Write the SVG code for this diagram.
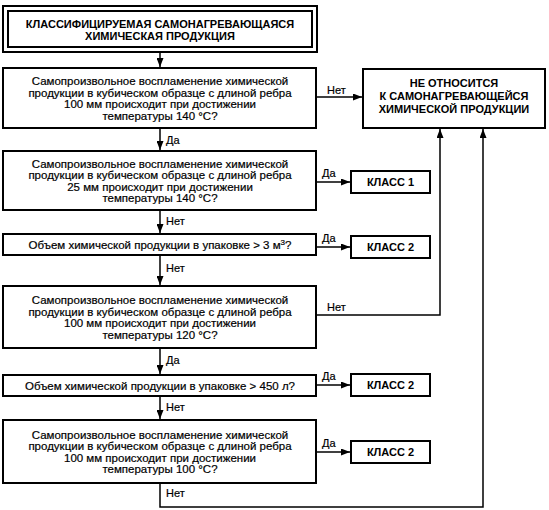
<svg xmlns="http://www.w3.org/2000/svg" width="549" height="510" viewBox="0 0 549 510">
<style>
.box{fill:#fff;stroke:#000;stroke-width:2}
.t{font-family:"Liberation Sans",Arial,sans-serif;font-size:11.5px;fill:#000;stroke:#000;stroke-width:0.2;text-anchor:middle}
.b{font-weight:bold;font-size:11px;stroke-width:0}
.lbl{font-family:"Liberation Sans",Arial,sans-serif;font-size:11px;fill:#000;stroke:#000;stroke-width:0.2}
.c{fill:none;stroke:#000;stroke-width:1.5}
</style>
<defs>
<marker id="ah" markerUnits="userSpaceOnUse" markerWidth="9" markerHeight="7" refX="9" refY="3.5" orient="auto">
<path d="M0,0 L9,3.5 L0,7 z" fill="#000"/>
</marker>
</defs>
<rect width="549" height="510" fill="#fff"/>
<g id="connectors">
<line class="c" x1="160" y1="53" x2="160" y2="67" marker-end="url(#ah)"/>
<line class="c" x1="160" y1="129" x2="160" y2="150" marker-end="url(#ah)"/>
<line class="c" x1="160" y1="211" x2="160" y2="233" marker-end="url(#ah)"/>
<line class="c" x1="160" y1="256" x2="160" y2="285" marker-end="url(#ah)"/>
<line class="c" x1="160" y1="349" x2="160" y2="374" marker-end="url(#ah)"/>
<line class="c" x1="160" y1="397" x2="160" y2="419" marker-end="url(#ah)"/>
<line class="c" x1="317" y1="97" x2="362" y2="97" marker-end="url(#ah)"/>
<line class="c" x1="317" y1="182" x2="350" y2="182" marker-end="url(#ah)"/>
<line class="c" x1="317" y1="247" x2="350" y2="247" marker-end="url(#ah)"/>
<line class="c" x1="317" y1="385" x2="350" y2="385" marker-end="url(#ah)"/>
<line class="c" x1="317" y1="452" x2="350" y2="452" marker-end="url(#ah)"/>
<polyline class="c" points="317,315 440,315 440,129" marker-end="url(#ah)"/>
<polyline class="c" points="160,484 160,507 483,507 483,129" marker-end="url(#ah)"/>
<text class="lbl" x="166" y="144">Да</text>
<text class="lbl" x="166" y="225">Нет</text>
<text class="lbl" x="166" y="272">Нет</text>
<text class="lbl" x="166" y="364">Да</text>
<text class="lbl" x="166" y="411">Нет</text>
<text class="lbl" x="166" y="497">Нет</text>
<text class="lbl" x="327" y="94">Нет</text>
<text class="lbl" x="322" y="177">Да</text>
<text class="lbl" x="322" y="242">Да</text>
<text class="lbl" x="327" y="311">Нет</text>
<text class="lbl" x="322" y="380">Да</text>
<text class="lbl" x="322" y="447">Да</text>
</g>
<g id="start">
<rect class="box" x="3" y="6" width="314" height="46"/>
<rect class="box" x="8" y="11" width="304" height="36"/>
<text class="t b" x="160" y="28">КЛАССИФИЦИРУЕМАЯ САМОНАГРЕВАЮЩАЯСЯ</text>
<text class="t b" x="160" y="40">ХИМИЧЕСКАЯ ПРОДУКЦИЯ</text>
</g>
<g id="q1">
<rect class="box" x="3" y="68" width="313" height="60"/>
<text class="t" x="160" y="85">Самопроизвольное воспламенение химической</text>
<text class="t" x="160" y="96.5">продукции в кубическом образце с длиной ребра</text>
<text class="t" x="160" y="108">100 мм происходит при достижении</text>
<text class="t" x="160" y="119.5">температуры 140 °С?</text>
</g>
<g id="not">
<rect class="box" x="363" y="69" width="182" height="59"/>
<text class="t b" x="454" y="87">НЕ ОТНОСИТСЯ</text>
<text class="t b" x="454" y="100">К САМОНАГРЕВАЮЩЕЙСЯ</text>
<text class="t b" x="454" y="113">ХИМИЧЕСКОЙ ПРОДУКЦИИ</text>
</g>
<g id="q2">
<rect class="box" x="3" y="151" width="313" height="59"/>
<text class="t" x="160" y="167.5">Самопроизвольное воспламенение химической</text>
<text class="t" x="160" y="179">продукции в кубическом образце с длиной ребра</text>
<text class="t" x="160" y="190.5">25 мм происходит при достижении</text>
<text class="t" x="160" y="202">температуры 140 °С?</text>
</g>
<g id="class1">
<rect class="box" x="351" y="171" width="79" height="22"/>
<text class="t b" x="390.5" y="186">КЛАСС 1</text>
</g>
<g id="q3">
<rect class="box" x="3" y="234" width="313" height="21"/>
<text class="t" x="160" y="249">Объем химической продукции в упаковке &gt; 3 м<tspan font-size="8" dy="-4">3</tspan><tspan dy="4">?</tspan></text>
</g>
<g id="class2a">
<rect class="box" x="351" y="236" width="79" height="22"/>
<text class="t b" x="390.5" y="251">КЛАСС 2</text>
</g>
<g id="q4">
<rect class="box" x="3" y="286" width="313" height="62"/>
<text class="t" x="160" y="304">Самопроизвольное воспламенение химической</text>
<text class="t" x="160" y="315.5">продукции в кубическом образце с длиной ребра</text>
<text class="t" x="160" y="327">100 мм происходит при достижении</text>
<text class="t" x="160" y="338.5">температуры 120 °С?</text>
</g>
<g id="q5">
<rect class="box" x="3" y="375" width="313" height="21"/>
<text class="t" x="160" y="390">Объем химической продукции в упаковке &gt; 450 л?</text>
</g>
<g id="class2b">
<rect class="box" x="351" y="374" width="79" height="22"/>
<text class="t b" x="390.5" y="389">КЛАСС 2</text>
</g>
<g id="q6">
<rect class="box" x="3" y="420" width="313" height="63"/>
<text class="t" x="160" y="438.5">Самопроизвольное воспламенение химической</text>
<text class="t" x="160" y="450">продукции в кубическом образце с длиной ребра</text>
<text class="t" x="160" y="461.5">100 мм происходит при достижении</text>
<text class="t" x="160" y="473">температуры 100 °С?</text>
</g>
<g id="class2c">
<rect class="box" x="351" y="441" width="79" height="22"/>
<text class="t b" x="390.5" y="456">КЛАСС 2</text>
</g>
</svg>
